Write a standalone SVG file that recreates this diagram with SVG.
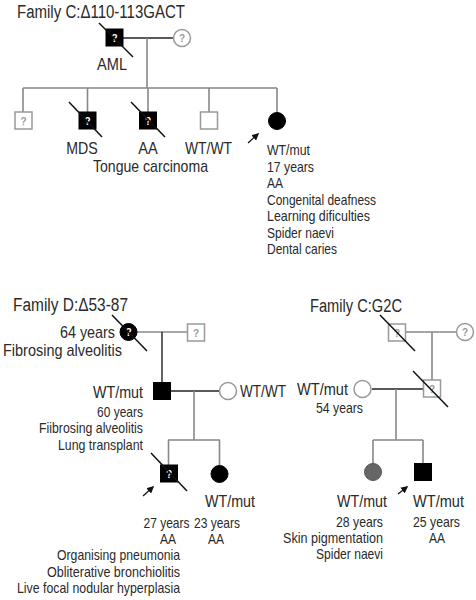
<svg xmlns="http://www.w3.org/2000/svg" width="476" height="600" viewBox="0 0 476 600">
<style>
text{font-family:"Liberation Sans",Arial,sans-serif;fill:#2a2a2a}
.t{font-size:18px}
.l{font-size:17px}
.s{font-size:14.5px}
.m{text-anchor:middle}
.e{text-anchor:end}
.q{font-size:10px;font-weight:bold;text-anchor:middle}
.qw{fill:#fff}
.qg{fill:#999}
.blk{fill:#000;stroke:#000;stroke-width:1}
.gry{fill:#fff;stroke:#999;stroke-width:1.5}
.aff2{fill:#666;stroke:#555;stroke-width:1}
.sl{stroke:#111;stroke-width:1.5}
.c{fill:none;stroke:#888;stroke-width:1.6}
.cd{fill:none;stroke:#222;stroke-width:1.4}
.ar{stroke:#111;stroke-width:1.2;marker-end:url(#ah)}
</style>
<defs>
<marker id="ah" viewBox="0 0 10 10" refX="8" refY="5" markerWidth="6" markerHeight="6" orient="auto">
<path d="M0,0 L10,5 L0,10 z" fill="#111"/>
</marker>
</defs>

<g id="titles">
<text class="t" x="17" y="18" textLength="168" lengthAdjust="spacingAndGlyphs">Family C:Δ110-113GACT</text>
<text class="t" x="13" y="311" textLength="115" lengthAdjust="spacingAndGlyphs">Family D:Δ53-87</text>
<text class="t" x="310" y="312" textLength="92" lengthAdjust="spacingAndGlyphs">Family C:G2C</text>
</g>

<g id="connectors">
<!-- Family C top -->
<path class="cd" d="M123,38 H173"/>
<path class="c" d="M147,38 V88 M23,88 H277 M23,88 V112 M87.5,88 V112 M148,88 V112 M209,88 V112 M277,88 V112"/>
<line class="ar" x1="248" y1="143" x2="258" y2="134"/>
<!-- Family D -->
<path class="c" d="M137,332 H187"/>
<path class="cd" d="M162,332 V382"/>
<path class="cd" d="M170,391 H219"/>
<path class="c" d="M194,391 V440 M168,440 H220 M168.5,440 V465 M219.5,440 V465"/>
<line class="ar" x1="143" y1="496" x2="153" y2="487"/>
<!-- Family C:G2C -->
<path class="c" d="M406,332 H456 M432,332 V380"/>
<path class="cd" d="M372,389 H423"/>
<path class="c" d="M396,389 V440 M373,440 H423 M373,440 V463 M423,440 V463"/>
<line class="ar" x1="398" y1="494" x2="407" y2="487"/>
</g>

<!-- Family C top nodes -->
<g id="c-father">
<rect class="blk" x="106" y="29" width="17" height="17"/>
<text class="q qw" x="114.5" y="41.5">?</text>
<line class="sl" x1="99" y1="23" x2="133" y2="57"/>
<text class="l m" x="112" y="70" textLength="30" lengthAdjust="spacingAndGlyphs">AML</text>
</g>
<g id="c-mother">
<circle class="gry" cx="182" cy="38" r="8.5"/>
<text class="q qg" x="182" y="41.5">?</text>
</g>
<g id="c-child1">
<rect class="gry" x="15" y="112" width="17" height="17"/>
<text class="q qg" x="23.5" y="124.5">?</text>
</g>
<g id="c-child2">
<rect class="blk" x="79" y="112" width="17" height="17"/>
<text class="q qw" x="87.5" y="124.5">?</text>
<line class="sl" x1="69" y1="102" x2="102" y2="137"/>
<text class="l m" x="82" y="154" textLength="31.5" lengthAdjust="spacingAndGlyphs">MDS</text>
</g>
<g id="c-child3">
<rect class="blk" x="139.5" y="112" width="17" height="17"/>
<text class="q qw" x="148" y="124.5">?</text>
<line class="sl" x1="131" y1="102" x2="165" y2="137"/>
<text class="l m" x="148" y="154" textLength="19.5" lengthAdjust="spacingAndGlyphs">AA</text>
<text class="l m" x="150.5" y="172" textLength="115" lengthAdjust="spacingAndGlyphs">Tongue carcinoma</text>
</g>
<g id="c-child4">
<rect class="gry" x="200.5" y="112" width="17" height="17"/>
<text class="l m" x="208.5" y="154" textLength="47" lengthAdjust="spacingAndGlyphs">WT/WT</text>
</g>
<g id="c-proband">
<circle class="blk" cx="277" cy="121" r="8.5"/>
<text class="s" x="267" y="155" textLength="43" lengthAdjust="spacingAndGlyphs">WT/mut</text>
<text class="s" x="267" y="171.5" textLength="47" lengthAdjust="spacingAndGlyphs">17 years</text>
<text class="s" x="267" y="188" textLength="16" lengthAdjust="spacingAndGlyphs">AA</text>
<text class="s" x="267" y="204.5" textLength="109" lengthAdjust="spacingAndGlyphs">Congenital deafness</text>
<text class="s" x="267" y="221" textLength="103" lengthAdjust="spacingAndGlyphs">Learning dificulties</text>
<text class="s" x="267" y="237.5" textLength="67" lengthAdjust="spacingAndGlyphs">Spider naevi</text>
<text class="s" x="267" y="254" textLength="70" lengthAdjust="spacingAndGlyphs">Dental caries</text>
</g>

<!-- Family D nodes -->
<g id="d-grandmother">
<circle class="blk" cx="128.5" cy="332" r="8.5"/>
<text class="q qw" x="128.5" y="335.5">?</text>
<line class="sl" x1="112" y1="315" x2="147" y2="351"/>
<text class="l e" x="115" y="337.5" textLength="55" lengthAdjust="spacingAndGlyphs">64 years</text>
<text class="l e" x="122" y="355.5" textLength="119" lengthAdjust="spacingAndGlyphs">Fibrosing alveolitis</text>
</g>
<g id="d-grandfather">
<rect class="gry" x="187.5" y="324" width="17" height="17"/>
<text class="q qg" x="196" y="336.5">?</text>
</g>
<g id="d-father">
<rect class="blk" x="153.5" y="382.5" width="17" height="17"/>
<text class="l e" x="143" y="398" textLength="50" lengthAdjust="spacingAndGlyphs">WT/mut</text>
<text class="s e" x="143" y="417" textLength="46" lengthAdjust="spacingAndGlyphs">60 years</text>
<text class="s e" x="143" y="433" textLength="104" lengthAdjust="spacingAndGlyphs">Fiibrosing alveolitis</text>
<text class="s e" x="143" y="450" textLength="85" lengthAdjust="spacingAndGlyphs">Lung transplant</text>
</g>
<g id="d-mother">
<circle class="gry" cx="228" cy="391" r="8.5"/>
<text class="l" x="240" y="397" textLength="46" lengthAdjust="spacingAndGlyphs">WT/WT</text>
</g>
<g id="d-proband">
<rect class="blk" x="160.5" y="465" width="17" height="17"/>
<text class="q qw" x="169" y="477.5">?</text>
<line class="sl" x1="151" y1="453" x2="187" y2="491"/>
<text class="s m" x="166.5" y="528" textLength="46" lengthAdjust="spacingAndGlyphs">27 years</text>
<text class="s m" x="168" y="544" textLength="16" lengthAdjust="spacingAndGlyphs">AA</text>
<text class="s e" x="180" y="560" textLength="123" lengthAdjust="spacingAndGlyphs">Organising pneumonia</text>
<text class="s e" x="180" y="577" textLength="133" lengthAdjust="spacingAndGlyphs">Obliterative bronchiolitis</text>
<text class="s e" x="180" y="593" textLength="163" lengthAdjust="spacingAndGlyphs">Live focal nodular hyperplasia</text>
</g>
<g id="d-daughter">
<circle class="blk" cx="219.5" cy="474" r="8.5"/>
<text class="l" x="205" y="507" textLength="50" lengthAdjust="spacingAndGlyphs">WT/mut</text>
<text class="s" x="194" y="528" textLength="46" lengthAdjust="spacingAndGlyphs">23 years</text>
<text class="s m" x="216" y="544" textLength="16" lengthAdjust="spacingAndGlyphs">AA</text>
</g>

<!-- Family C:G2C nodes -->
<g id="g-grandfather">
<rect class="gry" x="388.5" y="324" width="17" height="17"/>
<text class="q qg" x="397" y="336.5">?</text>
<line class="sl" x1="380" y1="315" x2="415" y2="351"/>
</g>
<g id="g-grandmother">
<circle class="gry" cx="465" cy="332" r="8.5"/>
<text class="q qg" x="465" y="335.5">?</text>
</g>
<g id="g-father">
<rect class="gry" x="423.5" y="380" width="17" height="17"/>
<text class="q qg" x="432" y="392.5">?</text>
<line class="sl" x1="413" y1="371" x2="448" y2="407"/>
</g>
<g id="g-mother">
<circle class="gry" cx="362.5" cy="389" r="8.5"/>
<text class="l" x="297" y="395" textLength="51" lengthAdjust="spacingAndGlyphs">WT/mut</text>
<text class="s" x="316" y="413" textLength="47" lengthAdjust="spacingAndGlyphs">54 years</text>
</g>
<g id="g-daughter">
<circle class="aff2" cx="373" cy="472" r="8.5"/>
<text class="l e" x="387" y="507" textLength="50" lengthAdjust="spacingAndGlyphs">WT/mut</text>
<text class="s e" x="383" y="527" textLength="47" lengthAdjust="spacingAndGlyphs">28 years</text>
<text class="s e" x="383" y="543" textLength="100" lengthAdjust="spacingAndGlyphs">Skin pigmentation</text>
<text class="s e" x="383" y="559" textLength="67" lengthAdjust="spacingAndGlyphs">Spider naevi</text>
</g>
<g id="g-proband">
<rect class="blk" x="414.5" y="463.5" width="17" height="17"/>
<text class="l" x="413" y="507" textLength="51" lengthAdjust="spacingAndGlyphs">WT/mut</text>
<text class="s" x="413" y="527" textLength="47" lengthAdjust="spacingAndGlyphs">25 years</text>
<text class="s m" x="437" y="543" textLength="16" lengthAdjust="spacingAndGlyphs">AA</text>
</g>
</svg>
